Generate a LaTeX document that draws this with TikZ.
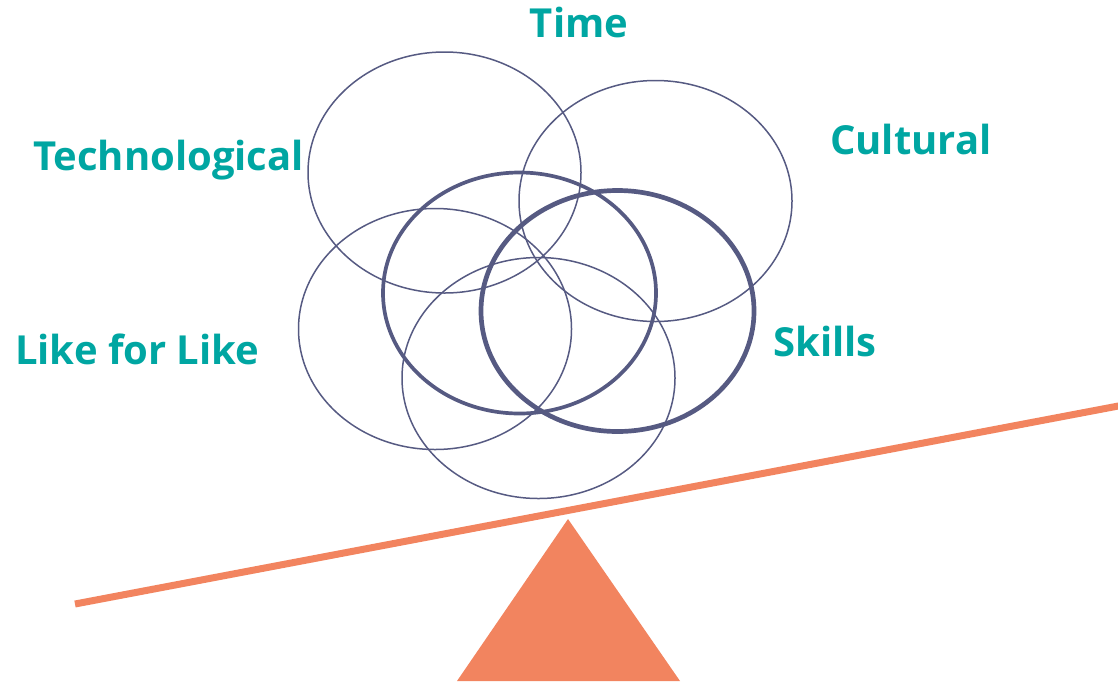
\documentclass[tikz,border=0pt]{standalone}
\usepackage{fontspec}
\setmainfont{Open Sans}
\usetikzlibrary{shapes.geometric}
\definecolor{teal}{HTML}{00A6A2}
\definecolor{ring}{HTML}{565A82}
\definecolor{orng}{HTML}{F2845F}
\tikzset{
  lbl/.style={text=teal, font=\fontsize{40}{42}\selectfont\bfseries, inner sep=0pt},
  ringthin/.style={ellipse, draw=ring, line width=1.5pt, inner sep=0pt, minimum width=273pt, minimum height=241pt},
  ringmid/.style={ringthin, line width=3.7pt},
  ringthick/.style={ringthin, line width=4.7pt},
}
\begin{document}
\begin{tikzpicture}[x=1pt,y=-1pt]
\useasboundingbox (0,0) rectangle (1118,681);
% seesaw
\coordinate (bl) at (75,604);
\coordinate (br) at (1122,405.3);
\draw[orng, line width=7pt] (bl) -- (br);
\coordinate (apex) at (568,519);
\coordinate (b1) at (457,681);
\coordinate (b2) at (680,681);
\fill[orng] (apex) -- (b1) -- (b2) -- cycle;
% ellipses
\node[ringthin] (etech) at (444.5,172.5) {};
\node[ringthin] (ecult) at (655.5,201) {};
\node[ringthin] (elike) at (435,329) {};
\node[ringthin] (ebot) at (538.5,378) {};
\node[ringmid] (emid) at (519.5,293) {};
\node[ringthick] (eskill) at (617.5,311) {};
% labels
\node[lbl, anchor=base] (ttime) at (579,37) {Time};
\node[lbl, anchor=base west] (ttech) at (33,170) {Technological};
\node[lbl, anchor=base west] (tcult) at (830,154) {Cultural};
\node[lbl, anchor=base west] (tlike) at (15,364) {Like for Like};
\node[lbl, anchor=base west] (tskill) at (773,356) {Skills};
\end{tikzpicture}
\end{document}
